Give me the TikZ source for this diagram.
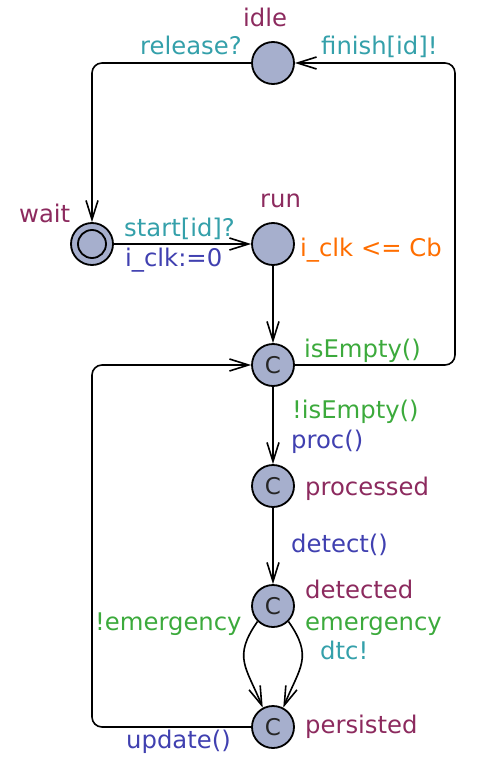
\documentclass[tikz,border=0pt]{standalone}
\usepackage{fontspec}
\setmainfont{DejaVu Sans}
\usetikzlibrary{arrows.meta}
\definecolor{locfill}{RGB}{166,175,205}
\definecolor{namecol}{RGB}{140,42,94}
\definecolor{synccol}{RGB}{52,160,170}
\definecolor{guardcol}{RGB}{60,170,60}
\definecolor{updcol}{RGB}{64,64,176}
\definecolor{invcol}{RGB}{255,110,0}
\tikzset{
  loc/.style={circle, draw, line width=1.8pt, fill=locfill, minimum size=42pt, inner sep=0pt},
  committed/.style={loc, font=\fontsize{23}{28}\selectfont, text=black!85},
  initloc/.style={loc, path picture={\draw[line width=1.8pt] (path picture bounding box.center) circle (14pt);}},
  lbl/.style={anchor=base west, inner sep=0pt, font=\fontsize{24.3}{28}\selectfont},
  lname/.style={lbl, text=namecol},
  lsync/.style={lbl, text=synccol},
  lguard/.style={lbl, text=guardcol},
  lupd/.style={lbl, text=updcol},
  linv/.style={lbl, text=invcol},
  edge/.style={line width=1.6pt, rounded corners=10pt, -{Straight Barb[length=19pt,width=12pt,line width=1.6pt]}}
}
\begin{document}
\begin{tikzpicture}[x=1pt,y=1pt]
\useasboundingbox (0,-757) rectangle (487,0);
% locations
\node[loc] (idle) at (273,-63) {};
\node[initloc] (wait) at (92,-244) {};
\node[loc] (run) at (273,-244) {};
\node[committed] (c1) at (273,-365) {C};
\node[committed] (proc) at (273,-486) {C};
\node[committed] (det) at (273,-606) {C};
\node[committed] (per) at (273,-727) {C};
\coordinate (r) at (455,-365);
\coordinate (l) at (92,-727);
% edges
\draw[edge] (idle.west) -| (wait.north);
\draw[edge] (c1.east) -- (r) |- (idle.east);
\draw[edge] (wait.east) -- (run.west);
\draw[edge] (run.south) -- (c1.north);
\draw[edge] (c1.south) -- (proc.north);
\draw[edge] (proc.south) -- (det.north);
\draw[edge] (det.-135) to[out=-125,in=112,looseness=1.3] (per.118);
\draw[edge] (det.-45) to[out=-55,in=68,looseness=1.3] (per.62);
\draw[edge] (per.west) -- (l) |- (c1.west);
% location names
\node[lname] (nidle) at (243,-27) {idle};
\node[lname] (nwait) at (19,-222) {wait};
\node[lname] (nrun) at (260,-207) {run};
\node[lname] (nproc) at (305,-495) {processed};
\node[lname] (ndet) at (305,-598) {detected};
\node[lname] (nper) at (305,-733) {persisted};
% invariant
\node[linv] (inv) at (300,-256) {i\_clk <= Cb};
% edge labels
\node[lsync] (srel) at (140,-55) {release?};
\node[lsync] (sfin) at (321,-55) {finish[id]!};
\node[lsync] (sstart) at (124,-236) {start[id]?};
\node[lupd] (uclk) at (125,-266) {i\_clk:=0};
\node[lguard] (gempty) at (304,-357) {isEmpty()};
\node[lguard] (gnempty) at (292,-418) {!isEmpty()};
\node[lupd] (uproc) at (291,-448) {proc()};
\node[lupd] (udet) at (291,-552) {detect()};
\node[lguard] (gnem) at (95,-630) {!emergency};
\node[lguard] (gem) at (305,-630) {emergency};
\node[lsync] (sdtc) at (320,-659) {dtc!};
\node[lupd] (uupd) at (126,-748) {update()};
\end{tikzpicture}
\end{document}
